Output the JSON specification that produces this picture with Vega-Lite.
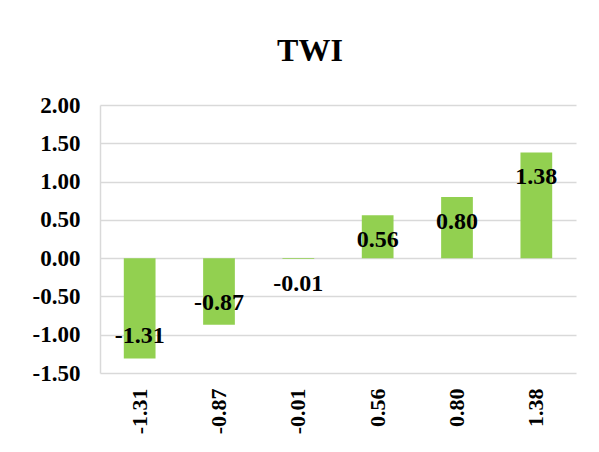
{
  "$schema": "https://vega.github.io/schema/vega-lite/v6.json",
  "width": 476,
  "height": 268,
  "autosize": {"type": "none"},
  "padding": {"left": 100, "top": 105, "right": 23, "bottom": 79},
  "background": "white",
  "title": {
    "text": "TWI",
    "font": "Liberation Serif",
    "fontSize": 32,
    "fontWeight": "bold",
    "color": "#000000",
    "anchor": "middle",
    "dx": -28,
    "offset": 26
  },
  "data": {
    "values": [
      {"cat": "-1.31", "value": -1.31},
      {"cat": "-0.87", "value": -0.87},
      {"cat": "-0.01", "value": -0.01},
      {"cat": "0.56", "value": 0.56},
      {"cat": "0.80", "value": 0.80},
      {"cat": "1.38", "value": 1.38}
    ]
  },
  "encoding": {
    "x": {
      "field": "cat",
      "type": "nominal",
      "sort": null,
      "scale": {"paddingInner": 0.6, "paddingOuter": 0.3},
      "axis": {
        "title": null,
        "labelAngle": -90,
        "labelAlign": "right",
        "labelBaseline": "middle",
        "labelPadding": 15,
        "ticks": false,
        "domain": false,
        "labelFont": "Liberation Serif",
        "labelFontSize": 22,
        "labelFontWeight": "bold",
        "labelColor": "#000000"
      }
    },
    "y": {
      "field": "value",
      "type": "quantitative",
      "scale": {"domain": [-1.5, 2], "nice": false, "zero": false},
      "axis": {
        "title": null,
        "values": [-1.5, -1, -0.5, 0, 0.5, 1, 1.5, 2],
        "labelExpr": "datum.value < 0 ? '-' + format(-datum.value, '.2f') : format(datum.value, '.2f')",
        "ticks": false,
        "labelPadding": 20,
        "domain": true,
        "domainColor": "#d9d9d9",
        "domainWidth": 1.5,
        "grid": true,
        "gridColor": "#d9d9d9",
        "gridWidth": 1.5,
        "labelFont": "Liberation Serif",
        "labelFontSize": 23,
        "labelFontWeight": "bold",
        "labelColor": "#000000"
      }
    }
  },
  "layer": [
    {
      "mark": {"type": "bar", "color": "#92D050"},
      "encoding": {"y2": {"datum": 0}}
    },
    {
      "transform": [{"filter": "datum.value > -0.5"}],
      "mark": {
        "type": "text",
        "font": "Liberation Serif",
        "fontSize": 24,
        "fontWeight": "bold",
        "color": "#000000",
        "baseline": "middle",
        "dy": 25
      },
      "encoding": {"text": {"field": "cat", "type": "nominal"}}
    },
    {
      "transform": [{"filter": "datum.value <= -0.5"}],
      "mark": {
        "type": "text",
        "font": "Liberation Serif",
        "fontSize": 24,
        "fontWeight": "bold",
        "color": "#000000",
        "baseline": "middle",
        "dy": -22
      },
      "encoding": {"text": {"field": "cat", "type": "nominal"}}
    }
  ],
  "config": {"view": {"stroke": null}}
}
